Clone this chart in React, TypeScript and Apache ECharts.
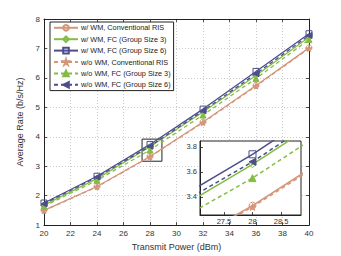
import React, { useEffect, useRef } from "react";
import * as echarts from "echarts";

const power = [20, 24, 28, 32, 36, 40];
const wmConv = [1.5, 2.31, 3.33, 4.5, 5.74, 7.02];
const wmFC3 = [1.68, 2.58, 3.66, 4.84, 6.08, 7.38];
const wmFC6 = [1.75, 2.66, 3.74, 4.94, 6.22, 7.5];
const woConv = [1.49, 2.3, 3.32, 4.48, 5.72, 7.0];
const woFC3 = [1.64, 2.52, 3.55, 4.74, 5.98, 7.3];
const woFC6 = [1.72, 2.63, 3.68, 4.88, 6.14, 7.44];

const names = [
  "w/ WM, Conventional RIS",
  "w/ WM, FC (Group Size 3)",
  "w/ WM, FC (Group Size 6)",
  "w/o WM, Conventional RIS",
  "w/o WM, FC (Group Size 3)",
  "w/o WM, FC (Group Size 6)",
];
const values = [wmConv, wmFC3, wmFC6, woConv, woFC3, woFC6];

const insetXRange = [27.08, 28.85];
const insetYRange = [3.256, 3.846];
const insetXTicks = [27.5, 28, 28.5];
const insetYTicks = [3.4, 3.6, 3.8];
const zoomBoxX = [27.4, 28.9];
const zoomBoxY = [3.17, 3.92];

const ORANGE = "#D3967A";
const GREEN = "#84BC45";
const BLUE = "#4C4E8C";
const colors = [ORANGE, GREEN, BLUE, ORANGE, GREEN, BLUE];
const STAR = "path://M50,0 L61,35 L98,35 L68,57 L79,91 L50,70 L21,91 L32,57 L2,35 L39,35 Z";
const LEFTTRI = "path://M0,50 L100,0 L100,100 Z";
const symbols = ["circle", "diamond", "rect", STAR, "triangle", LEFTTRI];
const hollow = [true, true, true, false, false, false];
const dashed = [false, false, false, true, true, true];

const FONT = "Liberation Sans, Arial, sans-serif";

export default function App() {
  const ref = useRef<HTMLDivElement>(null);
  useEffect(() => {
    if (!ref.current) return;
    const chart = echarts.init(ref.current, null, { renderer: "svg" });

    const gridLine = { show: true, lineStyle: { color: "#bdbdbd", width: 0.8, type: [1, 2] } };
    const axisLine = { show: true, lineStyle: { color: "#222", width: 1 } };
    const tickIn = { show: true, inside: true, length: 3, lineStyle: { color: "#222", width: 0.8 } };
    const lbl = { color: "#333", fontSize: 8, fontFamily: FONT };

    const mkSeries = (i: number, inset: boolean) => ({
      type: "line",
      name: names[i],
      xAxisIndex: inset ? 2 : 0,
      yAxisIndex: inset ? 2 : 0,
      data: power.map((p, k) => [p, values[i][k]]),
      symbol: symbols[i],
      symbolSize: inset ? 7 : 6,
      showAllSymbol: true,
      clip: true,
      z: inset ? 12 : 2,
      lineStyle: {
        color: colors[i],
        width: inset ? 1.5 : 1.3,
        type: dashed[i] ? [4, 3] : "solid",
      },
      itemStyle: {
        color: hollow[i] ? "rgba(255,255,255,0)" : colors[i],
        borderColor: colors[i],
        borderWidth: 1,
      },
      emphasis: { disabled: true },
    });

    const series: any[] = [];
    for (let i = 0; i < 6; i++) series.push(mkSeries(i, false));
    series[0].markArea = {
      silent: true,
      itemStyle: { color: "rgba(0,0,0,0)", borderColor: "#222", borderWidth: 1 },
      data: [[{ coord: [zoomBoxX[0], zoomBoxY[0]] }, { coord: [zoomBoxX[1], zoomBoxY[1]] }]],
    };
    for (let i = 0; i < 6; i++) series.push(mkSeries(i, true));
    series[6].markLine = {
      silent: true,
      symbol: ["none", "none"],
      label: { show: false },
      lineStyle: { color: "#c4c4c4", width: 0.8, type: [1, 2] },
      data: [
        ...insetXTicks.map((v) => ({ xAxis: v })),
        ...insetYTicks.map((v) => ({ yAxis: v })),
      ],
    };

    chart.setOption({
      animation: false,
      backgroundColor: "#fff",
      textStyle: { fontFamily: FONT },
      grid: [
        { left: 44, right: 32, top: 19, bottom: 28, show: false },
        {
          left: 200, top: 141, width: 101, height: 74, show: true,
          backgroundColor: "#fff", borderColor: "#222", borderWidth: 1, z: 10,
        },
      ],
      legend: {
        orient: "vertical",
        left: 50,
        top: 22,
        itemWidth: 24,
        itemHeight: 7,
        itemGap: 3.8,
        padding: [2, 3, 2, 3],
        backgroundColor: "#fff",
        borderColor: "#222",
        borderWidth: 1,
        borderRadius: 0,
        data: names,
        textStyle: { fontSize: 7.3, color: "#222", fontFamily: FONT, padding: [0, 0, 0, -2] },
      },
      xAxis: [
        {
          type: "value", gridIndex: 0, min: 20, max: 40, interval: 2,
          name: "Transmit Power (dBm)", nameLocation: "middle", nameGap: 15,
          nameTextStyle: { fontSize: 9, color: "#333", fontFamily: FONT },
          axisLine, axisTick: tickIn, splitLine: gridLine,
          axisLabel: { ...lbl, margin: 4 },
        },
        {
          type: "value", gridIndex: 0, position: "top", min: 20, max: 40, interval: 2,
          axisLine, axisTick: tickIn, splitLine: { show: false }, axisLabel: { show: false },
        },
        {
          type: "value", gridIndex: 1, position: "bottom", min: insetXRange[0], max: insetXRange[1],
          axisLine: { show: true, onZero: false, lineStyle: { color: "#222", width: 1 } },
          splitLine: { show: false },
          axisTick: { ...tickIn, customValues: insetXTicks },
          axisLabel: {
            ...lbl, fontSize: 7.5, margin: 2, customValues: insetXTicks,
          },
          z: 11,
        },
      ],
      yAxis: [
        {
          type: "value", gridIndex: 0, min: 1, max: 8, interval: 1,
          name: "Average Rate (b/s/Hz)", nameLocation: "middle", nameGap: 11,
          nameTextStyle: { fontSize: 9, color: "#333", fontFamily: FONT },
          axisLine, axisTick: tickIn, splitLine: gridLine,
          axisLabel: { ...lbl, margin: 4 },
        },
        {
          type: "value", gridIndex: 0, position: "right", min: 1, max: 8, interval: 1,
          axisLine, axisTick: tickIn, splitLine: { show: false }, axisLabel: { show: false },
        },
        {
          type: "value", gridIndex: 1, position: "left", min: insetYRange[0], max: insetYRange[1],
          axisLine: { show: true, onZero: false, lineStyle: { color: "#222", width: 1 } },
          splitLine: { show: false },
          axisTick: { ...tickIn, customValues: insetYTicks },
          axisLabel: {
            ...lbl, fontSize: 7.5, margin: 3, customValues: insetYTicks,
            formatter: (v: number) => v.toFixed(1),
          },
          z: 11,
        },
      ],
      series,
    });
    return () => chart.dispose();
  }, []);
  return <div ref={ref} style={{ width: 341, height: 256, position: "absolute", left: 0, top: 0 }} />;
}
